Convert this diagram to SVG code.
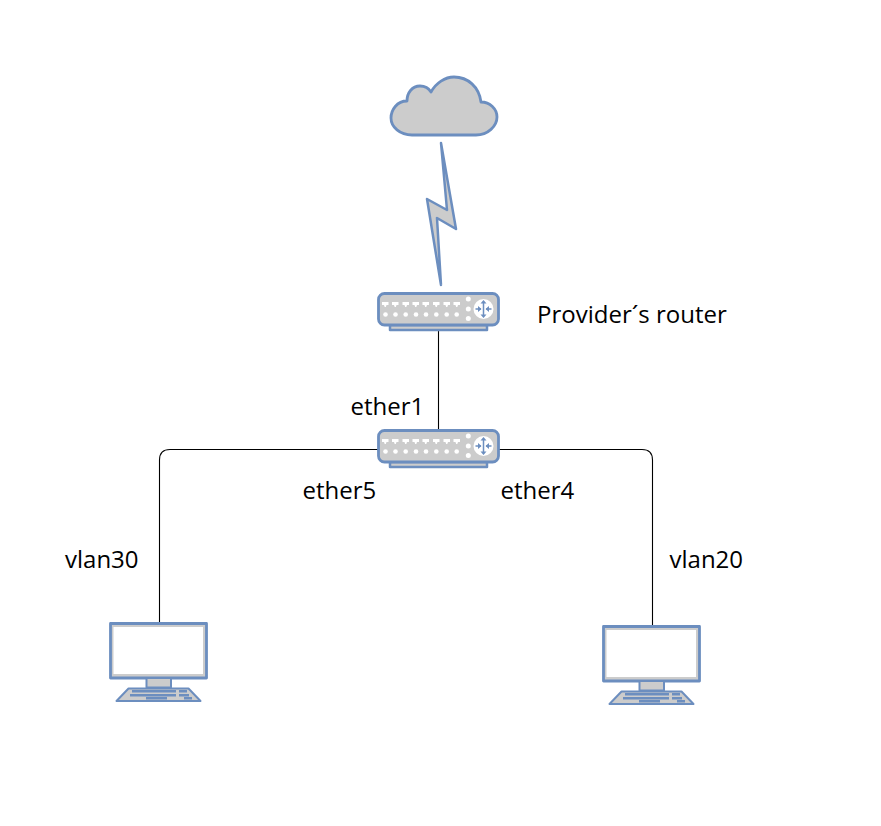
<svg xmlns="http://www.w3.org/2000/svg" width="881" height="826" viewBox="0 0 881 826">
<style>
.s{fill:#cccccc;stroke:#6c8ebf;stroke-width:2.800;stroke-linejoin:round}
.w{fill:#ffffff;stroke:none}
.b{fill:none;stroke:#6c8ebf;stroke-width:1.500}
.k{fill:#6c8ebf;stroke:none}
.c{fill:none;stroke:#000000;stroke-width:1.100}
text{font-family:"Open Sans","Noto Sans",sans-serif;font-size:24px;fill:#000000}
</style>
<defs>
<g id="router">
<rect class="s" x="390" y="325" width="97" height="5" style="stroke-width:2.500"/>
<rect class="s" x="378.500" y="293.500" width="120" height="31.500" rx="6"/>
<g class="w">
<path d="M382 302h6.500v3h-2l-.7 2h-1.100l-.7-2h-2z"/>
<path d="M392 302h6.500v3h-2l-.7 2h-1.100l-.7-2h-2z"/>
<path d="M402.500 302h6.500v3h-2l-.7 2h-1.100l-.7-2h-2z"/>
<path d="M412.500 302h6.500v3h-2l-.7 2h-1.100l-.7-2h-2z"/>
<path d="M422.500 302h6.500v3h-2l-.7 2h-1.100l-.7-2h-2z"/>
<path d="M433 302h6.500v3h-2l-.7 2h-1.100l-.7-2h-2z"/>
<path d="M443.500 302h6.500v3h-2l-.7 2h-1.100l-.7-2h-2z"/>
<path d="M453.500 302h6.500v3h-2l-.7 2h-1.100l-.7-2h-2z"/>
<circle cx="385.500" cy="314.500" r="2.300"/>
<circle cx="395.500" cy="314.500" r="2.300"/>
<circle cx="405.700" cy="314.500" r="2.300"/>
<circle cx="416" cy="314.500" r="2.300"/>
<circle cx="426" cy="314.500" r="2.300"/>
<circle cx="436.300" cy="314.500" r="2.300"/>
<circle cx="446.700" cy="314.500" r="2.300"/>
<circle cx="456.700" cy="314.500" r="2.300"/>
<circle cx="468.300" cy="299" r="2.500"/>
<circle cx="468.300" cy="309" r="2.500"/>
<circle cx="468.300" cy="318.500" r="2.500"/>
<circle cx="483.500" cy="309" r="10"/>
</g>
<path class="b" d="M483.500 302v14M475.500 309h5.500M491.500 309h-5.500"/>
<path class="k" d="M483.500 300l3 3.500h-6zM483.500 318l3-3.500h-6zM481.500 309l-3.500-3v6zM485.500 309l3.500-3v6z"/>
</g>
<g id="pc">
<rect class="s" x="110.500" y="623.500" width="96" height="54.500"/>
<rect class="w" x="113.500" y="627" width="89.500" height="47"/>
<rect class="s" x="146.500" y="678" width="24.500" height="9.500" style="stroke-width:2"/>
<path class="s" d="M128.500 688.500H188.500L200.500 701H116.500Z" style="stroke-width:2"/>
<g class="k">
<rect x="132" y="690" width="44" height="2.500"/>
<rect x="179" y="690" width="8" height="2.500"/>
<rect x="130" y="694" width="46" height="2.500"/>
<rect x="179" y="694" width="10" height="2.500"/>
<rect x="146" y="697" width="21" height="2.500"/>
<rect x="184" y="697" width="8" height="2.500"/>
</g>
</g>
</defs>
<g id="connectors">
<path class="c" d="M438.500 330V430"/>
<path class="c" d="M378 449.500H170Q159.500 449.500 159.500 460V623"/>
<path class="c" d="M499 449.500H642Q652.500 449.500 652.500 460V626"/>
</g>
<g id="cloud">
<path class="s" d="M412 135H476C488 135 497 126 497 117C497 109 490 102 481 102C479 87 468 77 454 77C445 77 436 83 431 92C428 87 424 86 420 86C412 86 407 93 407 101C397 101 391 110 391 118C391 127 400 135 412 135Z"/>
</g>
<g id="bolt">
<path class="s" d="M441 143L456 229L437 218L441 285L427 199L447 210Z" style="stroke-width:2.500"/>
</g>
<g id="router-provider"><use href="#router"/></g>
<g id="router-main"><use href="#router" y="137"/></g>
<g id="pc-left"><use href="#pc"/></g>
<g id="pc-right"><use href="#pc" x="493" y="3"/></g>
<g id="labels">
<text x="537" y="323">Provider´s router</text>
<text x="350.500" y="415">ether1</text>
<text x="302.500" y="499">ether5</text>
<text x="500.500" y="499">ether4</text>
<text x="65" y="568">vlan30</text>
<text x="669.500" y="568">vlan20</text>
</g>
</svg>
